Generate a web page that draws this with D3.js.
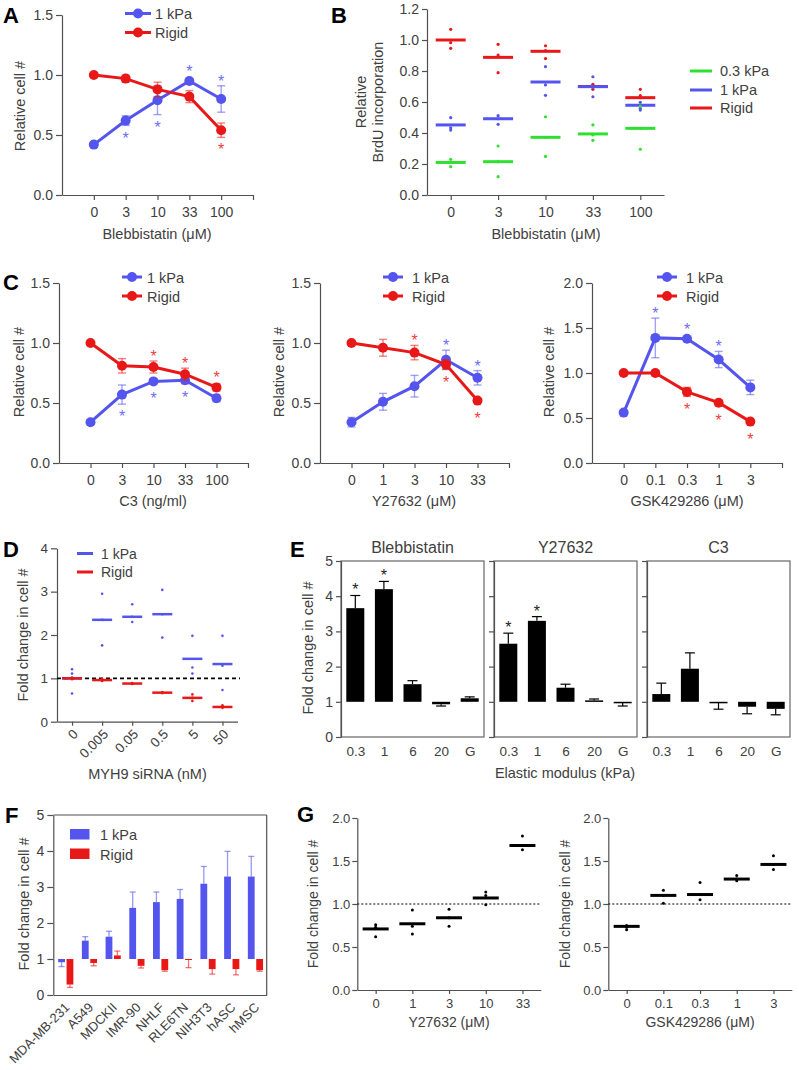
<!DOCTYPE html>
<html><head><meta charset="utf-8">
<script src="https://cdn.jsdelivr.net/npm/d3@7"></script>
<style>
body{margin:0;background:#fff;}
svg{display:block;font-family:"Liberation Sans",Arial,sans-serif;}
</style></head><body>
<svg id="fig" width="799" height="1070"></svg>
<script>
// ---------------- DATA ----------------
// Panel A
const aDoses = ["0","3","10","33","100"];
const aSoft = [0.42,0.62,0.79,0.95,0.80];
const aSoftErr = [0.02,0.04,0.12,0.02,0.11];
const aRigid = [1.00,0.97,0.88,0.82,0.54];
const aRigidErr = [0.01,0.03,0.06,0.05,0.06];
const aSoftStars = ["","b","b","a","a"];
const aRigidStars = ["","","","","b"];

// Panel B
const bDoses = ["0","3","10","33","100"];
const bSeries = ["0.3 kPa","1 kPa","Rigid"];
const bGreenMed = [0.210,0.215,0.372,0.394,0.430];
const bGreenPts = [[0.230,0.210,0.183],[0.316,0.215,0.118],[0.505,0.372,0.249],[0.452,0.387,0.353],[0.574,0.430,0.295]];
const bBlueMed = [0.452,0.492,0.729,0.699,0.579];
const bBluePts = [[0.499,0.434,0.419],[0.512,0.492,0.456],[0.828,0.710,0.643],[0.763,0.695,0.634],[0.598,0.559,0.548]];
const bRedMed = [1.000,0.888,0.927,0.700,0.628];
const bRedPts = [[1.069,0.983,0.946],[0.972,0.903,0.789],[0.963,0.931,0.880],[0.714,0.703,0.682],[0.682,0.641,0.628]];

// Panel C (three sub-panels)
const c1Doses = ["0","3","10","33","100"];
const c1Soft = [0.34,0.57,0.68,0.69,0.54];
const c1SoftErr = [0.02,0.08,0.02,0.03,0.03];
const c1Rigid = [1.00,0.81,0.80,0.74,0.63];
const c1RigidErr = [0.01,0.06,0.05,0.05,0.03];
const c1SoftStars = ["","b","b","b",""];
const c1RigidStars = ["","","a","a","a"];

const c2Doses = ["0","1","3","10","33"];
const c2Soft = [0.34,0.51,0.64,0.86,0.71];
const c2SoftErr = [0.04,0.07,0.09,0.08,0.06];
const c2Rigid = [1.00,0.96,0.92,0.82,0.52];
const c2RigidErr = [0.01,0.07,0.06,0.04,0.02];
const c2SoftStars = ["","","","a","a"];
const c2RigidStars = ["","","a","b","b"];

const c3Doses = ["0","0.1","0.3","1","3"];
const c3Soft = [0.56,1.39,1.38,1.15,0.84];
const c3SoftErr = [0.01,0.22,0.02,0.09,0.08];
const c3Rigid = [1.00,1.00,0.79,0.67,0.46];
const c3RigidErr = [0.01,0.03,0.05,0.02,0.01];
const c3SoftStars = ["","a","a","a",""];
const c3RigidStars = ["","","b","b","b"];

// Panel D
const dDoses = ["0","0.005","0.05","0.5","5","50"];
const dSoftMed = [1.00,2.35,2.42,2.48,1.45,1.33];
const dSoftPts = [[1.21,1.11,0.65],[2.95,2.35,1.76],[2.71,2.42,2.30],[3.04,2.48,1.94],[1.98,1.25,1.11],[1.98,1.29,0.73]];
const dRigidMed = [1.00,0.96,0.88,0.67,0.55,0.34];
const dRigidPts = [[1.02,1.00,0.98],[0.99,0.96,0.94],[0.89,0.88,0.87],[0.68,0.67,0.66],[0.63,0.55,0.48],[0.38,0.34,0.32]];

// Panel E
const eTreatments = ["Blebbistatin","Y27632","C3"];
const eModuli = ["0.3","1","6","20","G"];
const eBleb = [3.66,4.20,1.50,0.93,1.10];
const eBlebErr = [0.36,0.22,0.10,0.05,0.04];
const eBlebStars = [1,1,0,0,0];
const eY27 = [2.65,3.30,1.40,1.04,0.99];
const eY27Err = [0.30,0.12,0.10,0.04,0.11];
const eY27Stars = [1,1,0,0,0];
const eC3 = [1.22,1.94,0.97,0.86,0.80];
const eC3Err = [0.31,0.45,0.18,0.20,0.17];
const eC3Stars = [0,0,0,0,0];

// Panel F
const fCells = ["MDA-MB-231","A549","MDCKII","IMR-90","NHLF","RLE6TN","NIH3T3","hASC","hMSC"];
const fSoft = [0.91,1.51,1.62,2.42,2.58,2.67,3.09,3.29,3.29];
const fSoftErr = [0.12,0.11,0.15,0.44,0.28,0.26,0.48,0.70,0.56];
const fRigid = [0.29,0.89,1.10,0.81,0.69,0.98,0.72,0.72,0.69];
const fRigidErr = [0.08,0.08,0.12,0.06,0.03,0.22,0.14,0.16,0.03];

// Panel G
const gYDoses = ["0","1","3","10","33"];
const gYMed = [0.71,0.77,0.84,1.07,1.68];
const gYPts = [[0.76,0.73,0.62],[0.93,0.74,0.65],[0.94,0.84,0.74],[1.14,1.10,0.99],[1.79,1.68,1.63]];
const gGDoses = ["0","0.1","0.3","1","3"];
const gGMed = [0.74,1.10,1.11,1.29,1.46];
const gGPts = [[0.75,0.73,0.70],[1.16,1.10,1.01],[1.25,1.11,1.05],[1.33,1.29,1.27],[1.56,1.46,1.40]];

// ---------------- DRAWING ----------------
const svg = d3.select("#fig");
svg.append("rect").attr("width",799).attr("height",1070).attr("fill","#fff");
const BLUE="#5454ee", RED="#e81818", GREEN="#30e030";
const AX="#505050", TXT="#404040", FONT='"Liberation Sans",Arial,sans-serif';

function styleAxis(g, fs){
  g.attr("font-family",FONT).attr("font-size",fs);
  g.select(".domain").attr("stroke",AX).attr("stroke-width",1.2);
  g.selectAll(".tick line").attr("stroke",AX).attr("stroke-width",1.2);
  g.selectAll(".tick text").attr("fill",TXT);
}
function label(x,y,str,fs,opt={}){
  const t = svg.append("text").attr("x",x).attr("y",y).text(str)
    .attr("font-size",fs).attr("fill",opt.fill||TXT)
    .attr("text-anchor",opt.anchor||"middle");
  if(opt.weight) t.attr("font-weight",opt.weight);
  return t;
}
function ylabel(x,y,str,fs){
  svg.append("text").attr("transform",`translate(${x},${y}) rotate(-90)`)
    .attr("text-anchor","middle").attr("dy","0.35em").attr("font-size",fs).attr("fill",TXT).text(str);
}
function star(g,x,cy,color,fs=16){
  g.append("text").attr("x",x).attr("y",cy+0.56*fs).attr("text-anchor","middle")
    .attr("font-size",fs).attr("fill",color).text("*");
}

// ---- Panel letters
[["A",3,23],["B",331,23],["C",3,290],["D",3,557],["E",290,557],["F",5,823],["G",297,822]].forEach(([t,x,y])=>{
  label(x,y,t,22,{anchor:"start",weight:"bold",fill:"#000"});
});

// ---- line panels (A, C)
function linePanel(o){
  const x = d3.scaleLinear().domain([0,6]).range([o.x0,o.x1]);
  const y = d3.scaleLinear().domain([0,o.yMax]).range([o.y0,o.y1]);
  const g = svg.append("g");
  const yt = d3.range(0,o.yMax+1e-9,o.yStep);
  g.append("g").attr("transform",`translate(${o.x0},0)`)
    .call(d3.axisLeft(y).tickValues(yt).tickFormat(d3.format(".1f")).tickSize(6).tickPadding(3).tickSizeOuter(0))
    .call(styleAxis,14);
  g.append("g").attr("transform",`translate(0,${o.y0})`)
    .call(d3.axisBottom(x).tickValues([1,2,3,4,5,6]).tickFormat(i=>o.doses[i-1]||"").tickSize(5).tickPadding(7).tickSizeOuter(0))
    .call(styleAxis,14);
  const series = [[o.soft,o.softErr,o.softStars,BLUE],[o.rigid,o.rigidErr,o.rigidStars,RED]];
  series.forEach(([v,e,s,c])=>{
    const pts = v.map((d,i)=>({x:x(i+1),v:d,e:e[i],s:s[i]}));
    const eb = g.append("g").attr("stroke",c).attr("stroke-opacity",0.55).attr("stroke-width",1.4);
    pts.forEach(p=>{
      const ya=y(p.v+p.e), yb=y(p.v-p.e);
      eb.append("line").attr("x1",p.x).attr("x2",p.x).attr("y1",ya).attr("y2",yb);
      eb.append("line").attr("x1",p.x-4).attr("x2",p.x+4).attr("y1",ya).attr("y2",ya);
      eb.append("line").attr("x1",p.x-4).attr("x2",p.x+4).attr("y1",yb).attr("y2",yb);
    });
    g.append("path").datum(pts).attr("d",d3.line().x(p=>p.x).y(p=>y(p.v)))
      .attr("fill","none").attr("stroke",c).attr("stroke-width",3);
    g.append("g").selectAll("circle").data(pts).join("circle")
      .attr("cx",p=>p.x).attr("cy",p=>y(p.v)).attr("r",5).attr("fill",c);
    const sg = g.append("g").attr("opacity",0.85);
    pts.forEach(p=>{
      if(p.s==="a") star(sg,p.x,Math.min(y(p.v+p.e),y(p.v)-5)-8,c);
      if(p.s==="b") star(sg,p.x,Math.max(y(p.v-p.e),y(p.v)+5)+9,c);
    });
  });
  // legend
  const L=o.leg;
  [["1 kPa",BLUE,L.y1],["Rigid",RED,L.y2]].forEach(([t,c,yy])=>{
    g.append("line").attr("x1",L.lx0).attr("x2",L.lx1).attr("y1",yy).attr("y2",yy).attr("stroke",c).attr("stroke-width",3);
    g.append("circle").attr("cx",(L.lx0+L.lx1)/2).attr("cy",yy).attr("r",5).attr("fill",c);
    g.append("text").attr("x",L.tx).attr("y",yy+5.5).attr("font-size",14.5).attr("fill",TXT).text(t);
  });
  label(o.xlx,o.xly,o.xlabel,14.5);
  ylabel(o.ylx,o.yly,"Relative cell #",14.5);
}

linePanel({x0:62,x1:253,y0:195,y1:15,yMax:1.5,yStep:0.5,doses:aDoses,soft:aSoft,softErr:aSoftErr,rigid:aRigid,rigidErr:aRigidErr,
  softStars:aSoftStars,rigidStars:aRigidStars,leg:{lx0:125,lx1:151,tx:155,y1:13.5,y2:32.5},
  xlabel:"Blebbistatin (μM)",xlx:157,xly:239,ylx:20,yly:106});
linePanel({x0:59,x1:248,y0:463,y1:283,yMax:1.5,yStep:0.5,doses:c1Doses,soft:c1Soft,softErr:c1SoftErr,rigid:c1Rigid,rigidErr:c1RigidErr,
  softStars:c1SoftStars,rigidStars:c1RigidStars,leg:{lx0:122,lx1:142,tx:147,y1:277,y2:296},
  xlabel:"C3 (ng/ml)",xlx:153,xly:506,ylx:19,yly:372});
linePanel({x0:320,x1:509,y0:463,y1:283,yMax:1.5,yStep:0.5,doses:c2Doses,soft:c2Soft,softErr:c2SoftErr,rigid:c2Rigid,rigidErr:c2RigidErr,
  softStars:c2SoftStars,rigidStars:c2RigidStars,leg:{lx0:383,lx1:403,tx:412,y1:277,y2:296},
  xlabel:"Y27632 (μM)",xlx:414,xly:506,ylx:279,yly:372});
linePanel({x0:592,x1:782,y0:463,y1:283,yMax:2.0,yStep:0.5,doses:c3Doses,soft:c3Soft,softErr:c3SoftErr,rigid:c3Rigid,rigidErr:c3RigidErr,
  softStars:c3SoftStars,rigidStars:c3RigidStars,leg:{lx0:657,lx1:677,tx:686,y1:277,y2:296},
  xlabel:"GSK429286 (μM)",xlx:687,xly:506,ylx:549,yly:372});

// ---- median/dot panels (B, D, G)
function medPanel(g,x,y,meds,pts,color,w,sw,r){
  meds.forEach((m,i)=>{
    const cx=x(i);
    g.append("line").attr("x1",cx-w/2).attr("x2",cx+w/2).attr("y1",y(m)).attr("y2",y(m))
      .attr("stroke",color).attr("stroke-width",sw);
  });
  const flat=[]; pts.forEach((arr,i)=>arr.forEach(v=>flat.push({i,v})));
  g.append("g").selectAll("circle").data(flat).join("circle")
    .attr("cx",d=>x(d.i)).attr("cy",d=>y(d.v)).attr("r",r).attr("fill",color);
}

// Panel B
{
  const x = d3.scaleLinear().domain([-0.5,4.5]).range([427,664]);
  const y = d3.scaleLinear().domain([0,1.2]).range([195,9]);
  const g = svg.append("g");
  g.append("g").attr("transform","translate(427,0)")
    .call(d3.axisLeft(y).tickValues(d3.range(0,1.21,0.2)).tickFormat(d3.format(".1f")).tickSize(5).tickPadding(3).tickSizeOuter(0))
    .call(styleAxis,14);
  g.append("g").attr("transform","translate(0,195)")
    .call(d3.axisBottom(x).tickValues([0,1,2,3,4]).tickFormat(i=>bDoses[i]).tickSize(5).tickPadding(7).tickSizeOuter(0))
    .call(styleAxis,14);
  medPanel(g,x,y,bRedMed,bRedPts,RED,30,3,1.6);
  medPanel(g,x,y,bBlueMed,bBluePts,BLUE,30,3,1.6);
  medPanel(g,x,y,bGreenMed,bGreenPts,GREEN,30,3,1.6);
  [[bSeries[0],GREEN,71],[bSeries[1],BLUE,90],[bSeries[2],RED,108]].forEach(([t,c,yy])=>{
    g.append("line").attr("x1",690).attr("x2",712).attr("y1",yy).attr("y2",yy).attr("stroke",c).attr("stroke-width",3);
    g.append("text").attr("x",720).attr("y",yy+5).attr("font-size",14.5).attr("fill",TXT).text(t);
  });
  label(546,239,"Blebbistatin (μM)",14.5);
  svg.append("text").attr("transform","translate(361,102) rotate(-90)").attr("text-anchor","middle").attr("dy","0.35em")
    .attr("font-size",14.5).attr("fill",TXT).text("Relative");
  svg.append("text").attr("transform","translate(378,102) rotate(-90)").attr("text-anchor","middle").attr("dy","0.35em")
    .attr("font-size",14.5).attr("fill",TXT).text("BrdU incorporation");
}

// Panel D
{
  const x = d3.scaleLinear().domain([-0.5,5.5]).range([57,237.5]);
  const y = d3.scaleLinear().domain([0,4]).range([721.7,548.3]);
  const g = svg.append("g");
  g.append("g").attr("transform","translate(57,0)")
    .call(d3.axisLeft(y).tickValues([0,1,2,3,4]).tickFormat(d3.format("d")).tickSize(6).tickPadding(3).tickSizeOuter(0))
    .call(styleAxis,13.5);
  const xa = g.append("g").attr("transform","translate(0,721.7)")
    .call(d3.axisBottom(x).tickValues([0,1,2,3,4,5]).tickFormat(i=>dDoses[i]).tickSize(4).tickSizeOuter(0))
    .call(styleAxis,13.5);
  xa.selectAll(".tick text").attr("text-anchor","end").attr("dy","0.35em").attr("y",0)
    .attr("transform","translate(3,10) rotate(-45)");
  g.append("line").attr("x1",57).attr("x2",240).attr("y1",y(1)).attr("y2",y(1))
    .attr("stroke","#000").attr("stroke-width",1.6).attr("stroke-dasharray","4,3");
  medPanel(g,x,y,dSoftMed,dSoftPts,BLUE,20,2.5,1.3);
  medPanel(g,x,y,dRigidMed,dRigidPts,RED,20,2.5,1.3);
  [["1 kPa",BLUE,553.5],["Rigid",RED,572]].forEach(([t,c,yy])=>{
    g.append("line").attr("x1",77).attr("x2",93).attr("y1",yy).attr("y2",yy).attr("stroke",c).attr("stroke-width",3);
    g.append("text").attr("x",101).attr("y",yy+5).attr("font-size",14).attr("fill",TXT).text(t);
  });
  label(147.5,779,"MYH9 siRNA (nM)",14.5);
  ylabel(23,635,"Fold change in cell #",14.5);
}

// Panel E
{
  const boxes = [[341,484],[494,637],[647,790]];
  const y = d3.scaleLinear().domain([0,5]).range([737,561]);
  const vals = [[eBleb,eBlebErr,eBlebStars],[eY27,eY27Err,eY27Stars],[eC3,eC3Err,eC3Stars]];
  boxes.forEach(([bx0,bx1],k)=>{
    const g = svg.append("g");
    const x = d3.scaleLinear().domain([-0.5,4.5]).range([bx0,bx1]);
    g.append("rect").attr("x",bx0).attr("y",y(5)).attr("width",bx1-bx0).attr("height",y(0)-y(5))
      .attr("fill","none").attr("stroke","#666").attr("stroke-width",1.2);
    g.append("g").attr("transform",`translate(${bx0},0)`)
      .call(d3.axisLeft(y).tickValues([0,1,2,3,4,5]).tickFormat(k===0?d3.format("d"):()=>"").tickSize(5).tickPadding(3).tickSizeOuter(0))
      .call(styleAxis,14);
    const xa = g.append("g").attr("transform",`translate(0,${y(0)})`)
      .call(d3.axisBottom(x).tickValues([0,1,2,3,4]).tickFormat(i=>eModuli[i]).tickSize(0).tickPadding(9).tickSizeOuter(0))
      .call(styleAxis,13.5);
    xa.select(".domain").remove();
    const [v,e,s]=vals[k];
    v.forEach((d,i)=>{
      const cx=x(i), bw=18;
      const top=Math.min(y(d),y(1)), bot=Math.max(y(d),y(1));
      const ev = d>=1 ? d+e[i] : d-e[i];
      g.append("line").attr("x1",cx).attr("x2",cx).attr("y1",y(d)).attr("y2",y(ev)).attr("stroke","#000").attr("stroke-width",1.2);
      g.append("line").attr("x1",cx-5).attr("x2",cx+5).attr("y1",y(ev)).attr("y2",y(ev)).attr("stroke","#000").attr("stroke-width",1.2);
      g.append("rect").attr("x",cx-bw/2).attr("y",top).attr("width",bw).attr("height",Math.max(bot-top,1.5)).attr("fill","#000");
      if(s[i]) star(g,cx,y(ev)-9,"#222",16);
    });
    label((bx0+bx1)/2,553,eTreatments[k],16);
  });
  label(565,778,"Elastic modulus (kPa)",14.5);
  ylabel(308,648,"Fold change in cell #",14.5);
}

// Panel F
{
  const fx0=53.3, fx1=266.7, fy0=995, fy1=815;
  const x = d3.scaleBand().domain(fCells).range([fx0,fx1]);
  const y = d3.scaleLinear().domain([0,5]).range([fy0,fy1]);
  const g = svg.append("g");
  g.append("line").attr("x1",fx0).attr("x2",fx1).attr("y1",fy1).attr("y2",fy1).attr("stroke",AX).attr("stroke-width",1.2);
  g.append("line").attr("x1",fx1).attr("x2",fx1).attr("y1",fy1).attr("y2",fy0).attr("stroke",AX).attr("stroke-width",1.2);
  g.append("g").attr("transform",`translate(${fx0},0)`)
    .call(d3.axisLeft(y).tickValues([0,1,2,3,4,5]).tickFormat(d3.format("d")).tickSize(6).tickPadding(3).tickSizeOuter(0))
    .call(styleAxis,14);
  const xa = g.append("g").attr("transform",`translate(0,${fy0})`)
    .call(d3.axisBottom(x).tickSize(0).tickSizeOuter(0))
    .call(styleAxis,13);
  xa.selectAll(".tick text").attr("text-anchor","end").attr("dy","0.35em").attr("y",0)
    .attr("transform","translate(2,10) rotate(-45)");
  const bw=6.8;
  [[fSoft,fSoftErr,BLUE,-7],[fRigid,fRigidErr,RED,1.4]].forEach(([v,e,c,off])=>{
    v.forEach((d,i)=>{
      const cx = x(fCells[i])+x.bandwidth()/2+off+bw/2;
      const ev = d>=1 ? d+e[i] : d-e[i];
      g.append("line").attr("x1",cx).attr("x2",cx).attr("y1",y(d)).attr("y2",y(ev)).attr("stroke",c).attr("stroke-opacity",0.6).attr("stroke-width",1.3);
      g.append("line").attr("x1",cx-3).attr("x2",cx+3).attr("y1",y(ev)).attr("y2",y(ev)).attr("stroke",c).attr("stroke-opacity",0.6).attr("stroke-width",1.3);
      const top=Math.min(y(d),y(1)), bot=Math.max(y(d),y(1));
      g.append("rect").attr("x",cx-bw/2).attr("y",top).attr("width",bw).attr("height",Math.max(bot-top,1)).attr("fill",c);
    });
  });
  [["1 kPa",BLUE,829],["Rigid",RED,848.5]].forEach(([t,c,yy])=>{
    g.append("rect").attr("x",70).attr("y",yy).attr("width",19.5).attr("height",10.5).attr("fill",c);
    g.append("text").attr("x",100).attr("y",yy+11).attr("font-size",14.5).attr("fill",TXT).text(t);
  });
  ylabel(24,904,"Fold change in cell #",14.5);
}

// Panel G
function gPanel(x0,doses,meds,pts,xlabel,ylx){
  const x = d3.scaleLinear().domain([-0.5,4.5]).range([x0,x0+183.5]);
  const y = d3.scaleLinear().domain([0,2]).range([990,818]);
  const g = svg.append("g");
  g.append("g").attr("transform",`translate(${x0},0)`)
    .call(d3.axisLeft(y).tickValues([0,0.5,1,1.5,2]).tickFormat(d3.format(".1f")).tickSize(5).tickPadding(2).tickSizeOuter(0))
    .call(styleAxis,13);
  g.append("g").attr("transform","translate(0,990)")
    .call(d3.axisBottom(x).tickValues([0,1,2,3,4]).tickFormat(i=>doses[i]).tickSize(4).tickPadding(5).tickSizeOuter(0))
    .call(styleAxis,13);
  g.append("line").attr("x1",x0).attr("x2",x0+183.5).attr("y1",y(1)).attr("y2",y(1))
    .attr("stroke","#000").attr("stroke-width",1).attr("stroke-dasharray","2,2");
  medPanel(g,x,y,meds,pts,"#000",26,3,1.5);
  label(x(2),1027,xlabel,14);
  ylabel(ylx,904,"Fold change in cell #",14);
}
gPanel(357.3,gYDoses,gYMed,gYPts,"Y27632 (μM)",313);
gPanel(608.3,gGDoses,gGMed,gGPts,"GSK429286 (μM)",565);
</script>
</body></html>
